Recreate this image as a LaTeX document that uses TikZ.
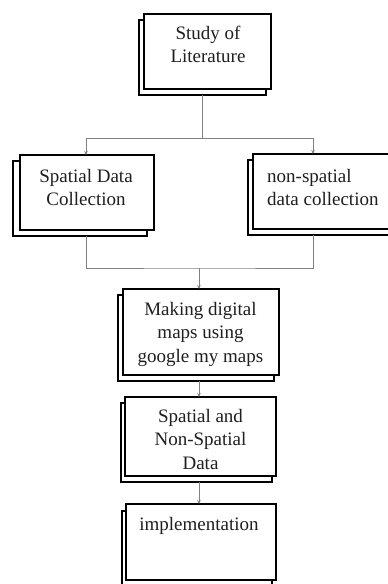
\documentclass[tikz,border=0pt]{standalone}
\usepackage{fontspec}
\setmainfont{Liberation Serif}
\usetikzlibrary{arrows.meta,backgrounds,fit}
\begin{document}
\begin{tikzpicture}[x=1pt,y=-1pt,
  frontbox/.style={draw=black, line width=2.6pt, fill=white, outer sep=0pt, inner sep=0pt},
  backbox/.style={draw=black, line width=2.6pt, fill=white, inner sep=0pt, outer sep=0pt},
  label/.style={inner sep=0pt, anchor=north, align=center, text=black!88,
    font=\fontsize{19}{23.5}\selectfont},
  conn/.style={draw=black!50, line width=0.9pt},
  arr/.style={conn, -{Stealth[length=4pt,width=3.5pt]}}]
\path[use as bounding box] (0,0) rectangle (388,584);
% front boxes
\node[frontbox, minimum width=127pt, minimum height=75pt] (b1) at (207.5,51.5) {};
\node[frontbox, minimum width=134pt, minimum height=75pt] (b2) at (87,192.5) {};
\node[frontbox, minimum width=141pt, minimum height=75pt] (b3) at (323.5,191.5) {};
\node[frontbox, minimum width=156pt, minimum height=86pt] (b4) at (201,332) {};
\node[frontbox, minimum width=151pt, minimum height=79pt] (b5) at (200.5,436.5) {};
\node[frontbox, minimum width=150pt, minimum height=76pt] (b6) at (201,542) {};
% shadow copies
\begin{scope}[on background layer]
\node[backbox, fit=(b1), xshift=-5pt, yshift=-6pt] (b1s) {};
\node[backbox, fit=(b2), xshift=-7pt, yshift=-6pt] (b2s) {};
\node[backbox, fit=(b3), xshift=-5pt, yshift=-6pt] (b3s) {};
\node[backbox, fit=(b4), xshift=-5pt, yshift=-6pt] (b4s) {};
\node[backbox, fit=(b5), xshift=-4pt, yshift=-6pt] (b5s) {};
\node[backbox, fit=(b6), xshift=-4pt, yshift=-7pt] (b6s) {};
\end{scope}
% texts
\node[label] (t1) at (208,22.5) {\strut Study of\\Literature};
\node[label] (t2) at (86,165.5) {\strut Spatial Data\\Collection};
\node[label, anchor=north west, align=left] (t3) at (267,165.5) {\strut non-spatial\\data collection};
\node[label] (t4) at (200.5,298.5) {\strut Making digital\\maps using\\google my maps};
\node[label] (t5) at (200.5,405.5) {\strut Spatial and\\Non-Spatial\\Data};
\node[label] (t6) at (199,513.5) {\strut implementation};
% junctions
\coordinate (j1) at (201,138);
\coordinate (j2) at (199,268);
\coordinate (b3top) at ([xshift=-10.5pt]b3.north);
\coordinate (b3bot) at ([xshift=-10.5pt,yshift=-6pt]b3.south);
\coordinate (b2top) at ([xshift=-1pt]b2.north);
\coordinate (b2bot) at ([xshift=-1pt,yshift=-6pt]b2.south);
% connectors
\draw[conn] (b1s.south) -- (b1s.south |- j1);
\draw[conn] (b2top |- j1) -- (b3top |- j1);
\draw[arr] (b2top |- j1) -- (b2top);
\draw[arr] (b3top |- j1) -- (b3top);
\draw[conn] (b2bot) |- (j2) -| (b3bot);
\draw[arr] (j2) -- (j2 |- b4.north);
\draw[arr] (j2 |- b4s.south) -- (j2 |- b5.north);
\draw[arr] (j2 |- b5s.south) -- (j2 |- b6.north);
\end{tikzpicture}
\end{document}
